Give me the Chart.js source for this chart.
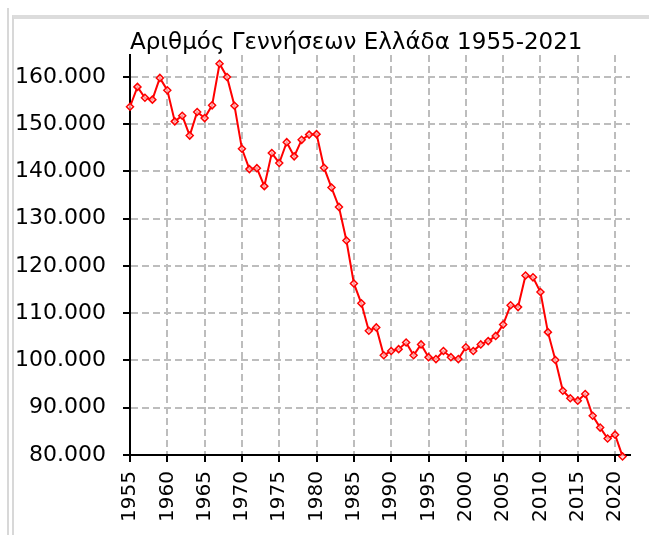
<!DOCTYPE html>
<html>
<head>
<meta charset="utf-8">
<script src="https://cdn.jsdelivr.net/npm/chart.js@4"></script>
<style>
html, body { margin: 0; padding: 0; background: #fff; }
#wrap { position: relative; width: 649px; height: 535px; overflow: hidden; }
.frameOuter { position: absolute; left: 7px; top: 8px; bottom: 0; width: 0; border-left: 2px solid #d8d8d8; }
.framePanel { position: absolute; left: 12px; top: 15px; right: 0; bottom: 0; border-left: 2px solid #d8d8d8; border-top: 4px solid #dcdcdc; }
canvas { position: absolute; left: 0; top: 0; }
</style>
</head>
<body>
<div id="wrap">
  <div class="frameOuter"></div>
  <div class="framePanel"></div>
  <canvas id="birthsChart" width="649" height="535"></canvas>
</div>
<script>
// ===== Data =====
const years = [
    1955, 1956, 1957, 1958, 1959, 1960, 1961, 1962, 1963, 1964,
    1965, 1966, 1967, 1968, 1969, 1970, 1971, 1972, 1973, 1974,
    1975, 1976, 1977, 1978, 1979, 1980, 1981, 1982, 1983, 1984,
    1985, 1986, 1987, 1988, 1989, 1990, 1991, 1992, 1993, 1994,
    1995, 1996, 1997, 1998, 1999, 2000, 2001, 2002, 2003, 2004,
    2005, 2006, 2007, 2008, 2009, 2010, 2011, 2012, 2013, 2014,
    2015, 2016, 2017, 2018, 2019, 2020, 2021
];
const births = [
    153700, 157900, 155600, 155200, 159800, 157200, 150600, 151800, 147600, 152600,
    151300, 154000, 162800, 160000, 153900, 144800, 140500, 140700, 136900, 143900,
    141800, 146200, 143200, 146700, 147800, 147900, 140800, 136600, 132500, 125400,
    116300, 112100, 106300, 107000, 101100, 102000, 102400, 103800, 101100, 103400,
    100700, 100300, 102000, 100700, 100300, 102800, 102000, 103400, 104100, 105200,
    107600, 111700, 111300, 118000, 117600, 114500, 106000, 100100, 93600, 92000,
    91500, 92900, 88300, 85800, 83500, 84300, 79700
];
const xTicks = [1955, 1960, 1965, 1970, 1975, 1980, 1985, 1990, 1995, 2000, 2005, 2010, 2015, 2020];
const yTicks = [80000, 90000, 100000, 110000, 120000, 130000, 140000, 150000, 160000];

const chartTitle = 'Αριθμός Γεννήσεων Ελλάδα 1955-2021';

const ctx = document.getElementById('birthsChart').getContext('2d');
const fontFamily = '"DejaVu Sans", "Liberation Sans", sans-serif';

// gridlines: grey dashed, tick marks black solid
function gridStyle() {
    return {
        color: '#bdbdbd',
        lineWidth: 2,
        tickColor: '#000',
        tickBorderDash: [],
        tickLength: 7,
        tickWidth: 2
    };
}

// ===== Chart =====
const chart = new Chart(ctx, {
    type: 'line',
    data: {
        datasets: [{
            label: 'Γεννήσεις',
            data: years.map((y, i) => ({ x: y, y: births[i] })),
            borderColor: '#ff0000',
            borderWidth: 2,
            tension: 0,
            clip: false,
            pointStyle: 'rectRot',
            pointRadius: 3.5,
            pointBorderWidth: 1.5,
            pointBorderColor: '#ff0000',
            pointBackgroundColor: 'rgba(255,215,215,0.7)'
        }]
    },
    options: {
        responsive: false,
        animation: false,
        layout: { padding: { top: 32, right: 19, left: 0, bottom: 0 } },
        plugins: {
            legend: { display: false },
            tooltip: { enabled: false },
            title: {
                display: true,
                text: chartTitle,
                align: 'start',
                fullSize: false,
                color: '#000',
                font: { family: fontFamily, size: 23, weight: 'normal', lineHeight: 1 },
                padding: { top: 0, bottom: 0 }
            }
        },
        scales: {
            x: {
                type: 'linear',
                min: 1955,
                max: 2022,
                afterBuildTicks: s => { s.ticks = xTicks.map(v => ({ value: v })); },
                afterFit: s => { s.height = 80; },
                border: { color: '#000', width: 2, dash: [7, 4] },
                grid: gridStyle(),
                ticks: {
                    minRotation: 90,
                    maxRotation: 90,
                    padding: 9,
                    color: '#000',
                    font: { family: fontFamily, size: 20 },
                    callback: v => String(v)
                }
            },
            y: {
                min: 80000,
                max: 164650,
                afterBuildTicks: s => { s.ticks = yTicks.map(v => ({ value: v })); },
                afterFit: s => { s.width = 130; },
                border: { color: '#000', width: 2, dash: [7, 4] },
                grid: gridStyle(),
                ticks: {
                    padding: 17,
                    color: '#000',
                    font: { family: fontFamily, size: 22 },
                    callback: v => (v / 1000) + '.000'
                }
            }
        }
    }
});
</script>
</body>
</html>
